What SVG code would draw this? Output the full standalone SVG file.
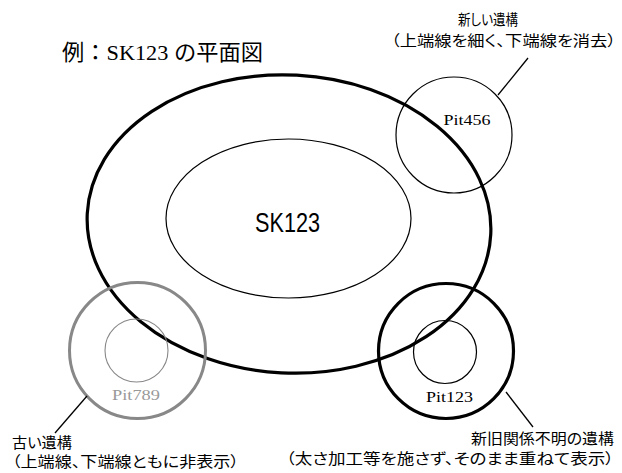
<svg xmlns="http://www.w3.org/2000/svg" width="622" height="473" viewBox="0 0 622 473">
<style>
.thick{fill:none;stroke:#000;stroke-width:3.2}
.thin{fill:none;stroke:#000;stroke-width:1.2}
.gthick{fill:none;stroke:#888;stroke-width:3}
.gthin{fill:none;stroke:#888;stroke-width:1.1}
.lead{stroke:#000;stroke-width:1.3;fill:none}
.jp{font-family:"Noto Sans CJK JP","Liberation Serif",serif;font-size:15px;fill:#000;font-feature-settings:"palt"}
.title{font-family:"Liberation Serif","Noto Sans CJK JP",serif;font-size:22px;fill:#000}
.pit{font-family:"Liberation Serif",serif;font-size:15px;text-anchor:middle}
</style>
<rect width="622" height="473" fill="#fff"/>
<g id="title">
<text class="title" x="62" y="60" textLength="201" lengthAdjust="spacingAndGlyphs">例：SK123 の平面図</text>
</g>
<g id="SK123">
<ellipse class="thick" cx="289" cy="224" rx="202" ry="149" transform="rotate(3 289 224)"/>
<ellipse class="thin" cx="288.5" cy="218.5" rx="122.5" ry="79.5"/>
<text x="255" y="232" font-family="'Liberation Sans',sans-serif" font-size="28" textLength="65" lengthAdjust="spacingAndGlyphs">SK123</text>
</g>
<g id="Pit456">
<circle class="thin" cx="454" cy="135" r="58"/>
<text class="pit" x="467" y="125" fill="#000" textLength="47" lengthAdjust="spacingAndGlyphs">Pit456</text>
</g>
<g id="Pit789">
<circle class="gthick" cx="137.5" cy="350.5" r="68"/>
<circle class="gthin" cx="136.5" cy="350.5" r="31.5"/>
<text class="pit" x="136" y="400" fill="#999" textLength="48" lengthAdjust="spacingAndGlyphs">Pit789</text>
</g>
<g id="Pit123">
<circle class="thick" cx="446" cy="351" r="67.5"/>
<circle class="thin" cx="445" cy="352" r="31.5"/>
<text class="pit" x="449.5" y="402" fill="#000" textLength="47" lengthAdjust="spacingAndGlyphs">Pit123</text>
</g>
<g id="connectors">
<line class="lead" x1="498" y1="95" x2="528" y2="58"/>
<line class="lead" x1="87" y1="396" x2="55" y2="433"/>
<line class="lead" x1="506" y1="392" x2="533" y2="427"/>
</g>
<g id="note-new">
<text class="jp" x="458" y="25" textLength="60" lengthAdjust="spacingAndGlyphs">新しい遺構</text>
<text class="jp" x="391" y="46" textLength="225" lengthAdjust="spacingAndGlyphs">（上端線を細く、下端線を消去）</text>
</g>
<g id="note-old">
<text class="jp" x="12" y="448" textLength="60" lengthAdjust="spacingAndGlyphs">古い遺構</text>
<text class="jp" x="12" y="467" textLength="227" lengthAdjust="spacingAndGlyphs">（上端線、下端線ともに非表示）</text>
</g>
<g id="note-unknown">
<text class="jp" x="471" y="444" textLength="143" lengthAdjust="spacingAndGlyphs">新旧関係不明の遺構</text>
<text class="jp" x="286" y="464" textLength="328" lengthAdjust="spacingAndGlyphs">（太さ加工等を施さず、そのまま重ねて表示）</text>
</g>
</svg>
